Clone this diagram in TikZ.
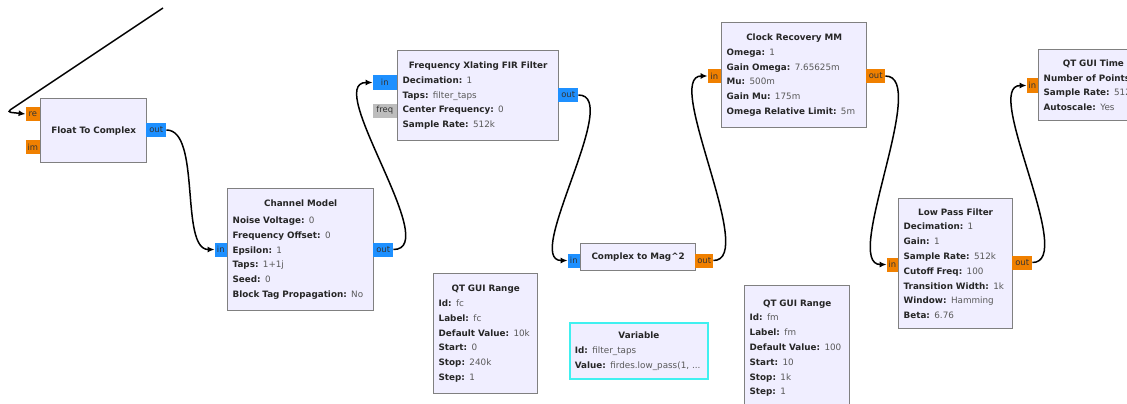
\documentclass[tikz,border=0pt]{standalone}
\usepackage{fontspec}
\setmainfont{DejaVu Sans}
\usetikzlibrary{arrows.meta,positioning}
\definecolor{blokkhatter}{HTML}{F0EEFF}
\definecolor{keret}{HTML}{808080}
\definecolor{narancs}{HTML}{F08000}
\definecolor{kek}{HTML}{1E90FF}
\definecolor{szurke}{HTML}{BDBDBD}
\definecolor{cian}{HTML}{40F0F0}
\newcommand{\prm}[2]{\mbox{\textbf{#1:} {\color{black!65}#2}}}
\newcommand{\cim}[1]{\makebox[\hsize][c]{\textbf{#1}}}
\tikzset{
  blokk/.style={draw=keret,line width=1.3pt,fill=blokkhatter,anchor=north west,inner xsep=5pt,inner ysep=6pt,
                align=left,font=\fontsize{8.8}{14.8}\selectfont,text=black!85},
  valtozo/.style={blokk,draw=cian,line width=1.8pt},
  port/.style={inner sep=1pt,minimum height=14pt,font=\fontsize{8.4}{9}\selectfont,text=black!80},
  portnar/.style={port,fill=narancs},
  portkek/.style={port,fill=kek},
  portszurke/.style={port,fill=szurke},
  vezetek/.style={line width=1.5pt,-{Latex[length=7pt,width=6pt]}},
}
\begin{document}
\begin{tikzpicture}[x=1pt,y=-1pt]
  \useasboundingbox (0,0) rectangle (1127,404);
  \clip (0,0) rectangle (1127,404);
  % blocks
  \node[blokk,minimum width=106pt,minimum height=64pt,text width=96pt] (ftc) at (40,98) {\cim{Float To Complex}};
  \node[blokk,minimum width=146pt,minimum height=122pt,text width=136pt] (chm) at (227,188)
    {\cim{Channel Model}\\[2pt] \prm{Noise Voltage}{0}\\ \prm{Frequency Offset}{0}\\ \prm{Epsilon}{1}\\
     \prm{Taps}{1+1j}\\ \prm{Seed}{0}\\ \prm{Block Tag Propagation}{No}};
  \node[blokk,minimum width=161pt,minimum height=90pt,text width=151pt] (fir) at (397,50)
    {\cim{Frequency Xlating FIR Filter}\\ \prm{Decimation}{1}\\ \prm{Taps}{filter\_taps}\\
     \prm{Center Frequency}{0}\\ \prm{Sample Rate}{512k}};
  \node[blokk,minimum width=115pt,minimum height=27pt,text width=105pt] (mag) at (580,243)
    {\cim{Complex to Mag\textasciicircum 2}};
  \node[blokk,minimum width=104pt,minimum height=120pt,text width=94pt] (rngfc) at (433,273)
    {\cim{QT GUI Range}\\ \prm{Id}{fc}\\ \prm{Label}{fc}\\ \prm{Default Value}{10k}\\
     \prm{Start}{0}\\ \prm{Stop}{240k}\\ \prm{Step}{1}};
  \node[valtozo,minimum width=138pt,minimum height=56pt,text width=128pt] (var) at (569,322)
    {\cim{Variable}\\ \prm{Id}{filter\_taps}\\ \prm{Value}{firdes.low\_pass(1, ...}};
  \node[blokk,minimum width=145pt,minimum height=105pt,text width=135pt] (crm) at (721,22)
    {\cim{Clock Recovery MM}\\ \prm{Omega}{1}\\ \prm{Gain Omega}{7.65625m}\\ \prm{Mu}{500m}\\
     \prm{Gain Mu}{175m}\\ \prm{Omega Relative Limit}{5m}};
  \node[blokk,minimum width=105pt,minimum height=125pt,text width=95pt] (rngfm) at (744,285)
    {\cim{QT GUI Range}\\ \prm{Id}{fm}\\ \prm{Label}{fm}\\ \prm{Default Value}{100}\\
     \prm{Start}{10}\\ \prm{Stop}{1k}\\ \prm{Step}{1}};
  \node[blokk,minimum width=114pt,minimum height=130pt,text width=104pt] (lpf) at (898,198)
    {\cim{Low Pass Filter}\\ \prm{Decimation}{1}\\ \prm{Gain}{1}\\ \prm{Sample Rate}{512k}\\
     \prm{Cutoff Freq}{100}\\ \prm{Transition Width}{1k}\\ \prm{Window}{Hamming}\\ \prm{Beta}{6.76}};
  \node[blokk,minimum width=134pt,minimum height=71pt,text width=124pt] (tsk) at (1038,49)
    {\cim{QT GUI Time Sink}\\ \prm{Number of Points}{1.024k}\\ \prm{Sample Rate}{512k}\\ \prm{Autoscale}{Yes}};
  % ports
  \node[portnar,anchor=east,minimum width=14pt] (ftcre) at (40,114) {re};
  \node[portnar,anchor=east,minimum width=14pt] (ftcim) at (40,147) {im};
  \node[portkek,anchor=west,minimum width=20pt] (ftcout) at (146,130) {out};
  \node[portkek,anchor=east,minimum width=12pt] (chmin) at (227,249.5) {in};
  \node[portkek,anchor=west,minimum width=20pt] (chmout) at (373,249.5) {out};
  \node[portkek,anchor=east,minimum width=24pt] (firin) at (397,82.5) {in};
  \node[portszurke,anchor=east,minimum width=24pt] (firfreq) at (397,110.5) {freq};
  \node[portkek,anchor=west,minimum width=20pt] (firout) at (558,95) {out};
  \node[portkek,anchor=east,minimum width=12pt] (magin) at (580,260.5) {in};
  \node[portnar,anchor=west,minimum width=18pt] (magout) at (695,260.5) {out};
  \node[portnar,anchor=east,minimum width=13pt] (crmin) at (721,76) {in};
  \node[portnar,anchor=west,minimum width=19pt] (crmout) at (866,76) {out};
  \node[portnar,anchor=east,minimum width=11pt] (lpfin) at (898,264.5) {in};
  \node[portnar,anchor=west,minimum width=20pt] (lpfout) at (1012,262.5) {out};
  \node[portnar,anchor=east,minimum width=11pt] (tskin) at (1038,85.5) {in};
  % wires
  \coordinate (hurokki) at (163,8);
  \coordinate (hurokfor) at (7,112);
  \draw[vezetek,rounded corners=4pt] (hurokki) -- (hurokfor) -- (ftcre.west);
  \draw[vezetek] (ftcout.east) .. controls +(35,0) and +(-35,0) .. (chmin.west);
  \draw[vezetek] (chmout.east) .. controls +(50,0) and +(-50,0) .. (firin.west);
  \draw[vezetek] (firout.east) .. controls +(45,0) and +(-45,0) .. (magin.west);
  \draw[vezetek] (magout.east) .. controls +(45,0) and +(-45,0) .. (crmin.west);
  \draw[vezetek] (crmout.east) .. controls +(45,0) and +(-45,0) .. (lpfin.west);
  \draw[vezetek] (lpfout.east) .. controls +(45,0) and +(-45,0) .. (tskin.west);
\end{tikzpicture}
\end{document}
